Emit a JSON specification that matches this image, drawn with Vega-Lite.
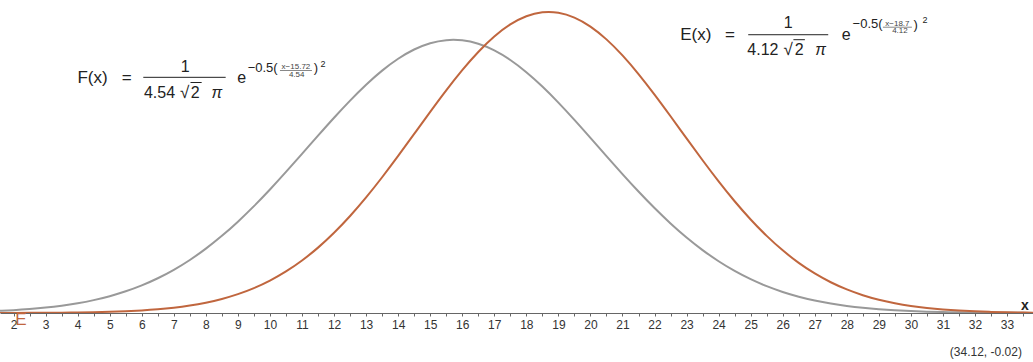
{
"$schema": "https://vega.github.io/schema/vega-lite/v6.json",
"width": 1033, "height": 313,
"autosize": {"type": "none"},
"padding": {"left": 0, "top": 0, "right": 0, "bottom": 49},
"background": "white",
"config": {"view": {"stroke": null}, "font": "Liberation Sans", "text": {"font": "Liberation Sans", "color": "#222"}},
"data": {"values": [
{"x":1.5,"F":0.000651,"E":0.000016},{"x":2,"F":0.000913,"E":0.000026},{"x":2.5,"F":0.001266,"E":0.000043},{"x":3,"F":0.001734,"E":0.000068},
{"x":3.5,"F":0.002347,"E":0.000107},{"x":4,"F":0.003138,"E":0.000167},{"x":4.5,"F":0.004146,"E":0.000255},{"x":5,"F":0.005410,"E":0.000385},
{"x":5.5,"F":0.006975,"E":0.000572},{"x":6,"F":0.008880,"E":0.000837},{"x":6.5,"F":0.011175,"E":0.001208},{"x":7,"F":0.013892,"E":0.001717},
{"x":7.5,"F":0.017060,"E":0.002406},{"x":8,"F":0.020701,"E":0.003322},{"x":8.5,"F":0.024813,"E":0.004520},{"x":9,"F":0.029385,"E":0.006059},
{"x":9.5,"F":0.034375,"E":0.008004},{"x":10,"F":0.039731,"E":0.010416},{"x":10.5,"F":0.045372,"E":0.013360},{"x":11,"F":0.051183,"E":0.016884},
{"x":11.5,"F":0.057046,"E":0.021030},{"x":12,"F":0.062814,"E":0.025808},{"x":12.5,"F":0.068330,"E":0.031205},{"x":13,"F":0.073435,"E":0.037186},
{"x":13.5,"F":0.077967,"E":0.043665},{"x":14,"F":0.081784,"E":0.050516},{"x":14.5,"F":0.084754,"E":0.057592},{"x":15,"F":0.086772,"E":0.064696},
{"x":15.5,"F":0.087767,"E":0.071614},{"x":16,"F":0.087703,"E":0.078119},{"x":16.5,"F":0.086583,"E":0.083962},{"x":17,"F":0.084446,"E":0.088928},
{"x":17.5,"F":0.081369,"E":0.092810},{"x":18,"F":0.077460,"E":0.095443},{"x":18.5,"F":0.072849,"E":0.096716},{"x":19,"F":0.067686,"E":0.096573},
{"x":19.5,"F":0.062133,"E":0.095022},{"x":20,"F":0.056346,"E":0.092128},{"x":20.5,"F":0.050480,"E":0.088016},{"x":21,"F":0.044685,"E":0.082858},
{"x":21.5,"F":0.039072,"E":0.076864},{"x":22,"F":0.033755,"E":0.070257},{"x":22.5,"F":0.028812,"E":0.063285},{"x":23,"F":0.024292,"E":0.056165},
{"x":23.5,"F":0.020239,"E":0.049123},{"x":24,"F":0.016656,"E":0.042332},{"x":24.5,"F":0.013543,"E":0.035947},{"x":25,"F":0.010878,"E":0.030077},
{"x":25.5,"F":0.008632,"E":0.024804},{"x":26,"F":0.006769,"E":0.020152},{"x":26.5,"F":0.005244,"E":0.016132},{"x":27,"F":0.004011,"E":0.012725},
{"x":27.5,"F":0.003033,"E":0.009892},{"x":28,"F":0.002265,"E":0.007577},{"x":28.5,"F":0.001671,"E":0.005721},{"x":29,"F":0.001219,"E":0.004255},
{"x":29.5,"F":0.000878,"E":0.003118},{"x":30,"F":0.000624,"E":0.002251},{"x":30.5,"F":0.000439,"E":0.001602},{"x":31,"F":0.000305,"E":0.001124},
{"x":31.5,"F":0.000209,"E":0.000777},{"x":32,"F":0.000142,"E":0.000529},{"x":32.5,"F":0.000095,"E":0.000355},{"x":33,"F":0.000063,"E":0.000235},
{"x":33.5,"F":0.000041,"E":0.000153},{"x":34,"F":0.000026,"E":0.000098}
]},
"layer": [
{"mark": {"type": "line", "color": "#999999", "strokeWidth": 2, "interpolate": "natural", "clip": true},
 "encoding": {
  "x": {"field": "x", "type": "quantitative", "scale": {"domain": [1.576, 33.81], "nice": false, "zero": false},
   "axis": {"values": [2,2.5,3,3.5,4,4.5,5,5.5,6,6.5,7,7.5,8,8.5,9,9.5,10,10.5,11,11.5,12,12.5,13,13.5,14,14.5,15,15.5,16,16.5,17,17.5,18,18.5,19,19.5,20,20.5,21,21.5,22,22.5,23,23.5,24,24.5,25,25.5,26,26.5,27,27.5,28,28.5,29,29.5,30,30.5,31,31.5,32,32.5,33,33.5],
    "tickCount": 200, "labelExpr": "datum.value % 1 === 0 ? format(datum.value, 'd') : ''", "title": null, "grid": false,
    "domainColor": "#666", "tickColor": "#666", "tickSize": 3, "labelPadding": 3, "labelFontSize": 12, "labelColor": "#333",
    "labelFont": "Liberation Sans", "labelOverlap": false, "labelFlush": false, "labelBound": false, "domainWidth": 1, "tickWidth": 1}},
  "y": {"field": "F", "type": "quantitative", "scale": {"domain": [0, 0.10068], "nice": false, "zero": false}, "axis": null}
 }},
{"mark": {"type": "line", "color": "#c0663e", "strokeWidth": 2, "interpolate": "natural", "clip": true},
 "encoding": {"x": {"field": "x", "type": "quantitative"}, "y": {"field": "E", "type": "quantitative"}}},

{"data": {"values": [{}]}, "mark": {"type": "text", "text": "F(x)", "fontSize": 17, "align": "center", "baseline": "alphabetic"}, "encoding": {"x": {"datum": 4.462}, "y": {"datum": 0.07398}}},
{"data": {"values": [{}]}, "mark": {"type": "text", "text": "=", "fontSize": 17, "align": "center", "baseline": "alphabetic"}, "encoding": {"x": {"datum": 5.529}, "y": {"datum": 0.07398}}},
{"data": {"values": [{}]}, "mark": {"type": "text", "text": "1", "fontSize": 16, "align": "center", "baseline": "alphabetic"}, "encoding": {"x": {"datum": 7.357}, "y": {"datum": 0.07761}}},
{"data": {"values": [{}]}, "mark": {"type": "rule", "color": "#222", "strokeWidth": 1}, "encoding": {"x": {"datum": 6.047}, "x2": {"datum": 8.618}, "y": {"datum": 0.07581}}},
{"data": {"values": [{}]}, "mark": {"type": "text", "text": "4.54", "fontSize": 16, "align": "center", "baseline": "alphabetic"}, "encoding": {"x": {"datum": 6.552}, "y": {"datum": 0.06925}}},
{"data": {"values": [{}]}, "mark": {"type": "text", "text": "√", "fontSize": 17, "align": "center", "baseline": "alphabetic"}, "encoding": {"x": {"datum": 7.34}, "y": {"datum": 0.06925}}},
{"data": {"values": [{}]}, "mark": {"type": "text", "text": "2", "fontSize": 16, "align": "center", "baseline": "alphabetic"}, "encoding": {"x": {"datum": 7.669}, "y": {"datum": 0.06925}}},
{"data": {"values": [{}]}, "mark": {"type": "rule", "color": "#222", "strokeWidth": 1}, "encoding": {"x": {"datum": 7.52}, "x2": {"datum": 7.869}, "y": {"datum": 0.07414}}},
{"data": {"values": [{}]}, "mark": {"type": "text", "text": "π", "fontSize": 16, "fontStyle": "italic", "align": "center", "baseline": "alphabetic"}, "encoding": {"x": {"datum": 8.346}, "y": {"datum": 0.06925}}},
{"data": {"values": [{}]}, "mark": {"type": "text", "text": "e", "fontSize": 16, "align": "center", "baseline": "alphabetic"}, "encoding": {"x": {"datum": 9.117}, "y": {"datum": 0.07388}}},
{"data": {"values": [{}]}, "mark": {"type": "text", "text": "−0.5(", "fontSize": 13, "align": "left", "baseline": "alphabetic"}, "encoding": {"x": {"datum": 9.304}, "y": {"datum": 0.07761}}},
{"data": {"values": [{}]}, "mark": {"type": "text", "text": "x−15.72", "fontSize": 8, "align": "center", "baseline": "alphabetic", "color": "#444"}, "encoding": {"x": {"datum": 10.811}, "y": {"datum": 0.07845}}},
{"data": {"values": [{}]}, "mark": {"type": "rule", "color": "#555", "strokeWidth": 0.7}, "encoding": {"x": {"datum": 10.312}, "x2": {"datum": 11.31}, "y": {"datum": 0.078}}},
{"data": {"values": [{}]}, "mark": {"type": "text", "text": "4.54", "fontSize": 8, "align": "center", "baseline": "alphabetic", "color": "#444"}, "encoding": {"x": {"datum": 10.833}, "y": {"datum": 0.07605}}},
{"data": {"values": [{}]}, "mark": {"type": "text", "text": ")", "fontSize": 13, "align": "center", "baseline": "alphabetic"}, "encoding": {"x": {"datum": 11.435}, "y": {"datum": 0.07752}}},
{"data": {"values": [{}]}, "mark": {"type": "text", "text": "2", "fontSize": 9, "align": "center", "baseline": "alphabetic"}, "encoding": {"x": {"datum": 11.654}, "y": {"datum": 0.07922}}},

{"data": {"values": [{}]}, "mark": {"type": "text", "text": "E(x)", "fontSize": 17, "align": "center", "baseline": "alphabetic"}, "encoding": {"x": {"datum": 23.286}, "y": {"datum": 0.08791}}},
{"data": {"values": [{}]}, "mark": {"type": "text", "text": "=", "fontSize": 17, "align": "center", "baseline": "alphabetic"}, "encoding": {"x": {"datum": 24.353}, "y": {"datum": 0.08791}}},
{"data": {"values": [{}]}, "mark": {"type": "text", "text": "1", "fontSize": 16, "align": "center", "baseline": "alphabetic"}, "encoding": {"x": {"datum": 26.172}, "y": {"datum": 0.09167}}},
{"data": {"values": [{}]}, "mark": {"type": "rule", "color": "#222", "strokeWidth": 1}, "encoding": {"x": {"datum": 24.924}, "x2": {"datum": 27.42}, "y": {"datum": 0.08951}}},
{"data": {"values": [{}]}, "mark": {"type": "text", "text": "4.12", "fontSize": 16, "align": "center", "baseline": "alphabetic"}, "encoding": {"x": {"datum": 25.382}, "y": {"datum": 0.08308}}},
{"data": {"values": [{}]}, "mark": {"type": "text", "text": "√", "fontSize": 17, "align": "center", "baseline": "alphabetic"}, "encoding": {"x": {"datum": 26.17}, "y": {"datum": 0.08308}}},
{"data": {"values": [{}]}, "mark": {"type": "text", "text": "2", "fontSize": 16, "align": "center", "baseline": "alphabetic"}, "encoding": {"x": {"datum": 26.512}, "y": {"datum": 0.08308}}},
{"data": {"values": [{}]}, "mark": {"type": "rule", "color": "#222", "strokeWidth": 1}, "encoding": {"x": {"datum": 26.334}, "x2": {"datum": 26.692}, "y": {"datum": 0.08791}}},
{"data": {"values": [{}]}, "mark": {"type": "text", "text": "π", "fontSize": 16, "fontStyle": "italic", "align": "center", "baseline": "alphabetic"}, "encoding": {"x": {"datum": 27.186}, "y": {"datum": 0.08308}}},
{"data": {"values": [{}]}, "mark": {"type": "text", "text": "e", "fontSize": 16, "align": "center", "baseline": "alphabetic"}, "encoding": {"x": {"datum": 27.978}, "y": {"datum": 0.08781}}},
{"data": {"values": [{}]}, "mark": {"type": "text", "text": "−0.5(", "fontSize": 13, "align": "left", "baseline": "alphabetic"}, "encoding": {"x": {"datum": 28.181}, "y": {"datum": 0.09154}}},
{"data": {"values": [{}]}, "mark": {"type": "text", "text": "x−18.7", "fontSize": 8, "align": "center", "baseline": "alphabetic", "color": "#444"}, "encoding": {"x": {"datum": 29.579}, "y": {"datum": 0.09238}}},
{"data": {"values": [{}]}, "mark": {"type": "rule", "color": "#555", "strokeWidth": 0.7}, "encoding": {"x": {"datum": 29.126}, "x2": {"datum": 30.031}, "y": {"datum": 0.09193}}},
{"data": {"values": [{}]}, "mark": {"type": "text", "text": "4.12", "fontSize": 8, "align": "center", "baseline": "alphabetic", "color": "#444"}, "encoding": {"x": {"datum": 29.657}, "y": {"datum": 0.09}}},
{"data": {"values": [{}]}, "mark": {"type": "text", "text": ")", "fontSize": 13, "align": "center", "baseline": "alphabetic"}, "encoding": {"x": {"datum": 30.15}, "y": {"datum": 0.09144}}},
{"data": {"values": [{}]}, "mark": {"type": "text", "text": "2", "fontSize": 9, "align": "center", "baseline": "alphabetic"}, "encoding": {"x": {"datum": 30.437}, "y": {"datum": 0.09315}}},

{"data": {"values": [{}]}, "mark": {"type": "text", "text": "x", "fontSize": 14, "fontWeight": "bold", "align": "center", "baseline": "alphabetic"}, "encoding": {"x": {"datum": 33.557}, "y": {"datum": 0.000965}}},
{"data": {"values": [{}]}, "mark": {"type": "text", "text": "(34.12, -0.02)", "fontSize": 12, "color": "#333", "align": "right", "baseline": "alphabetic"}, "encoding": {"x": {"datum": 33.463}, "y": {"datum": -0.01383}}},
{"data": {"values": [{}]}, "mark": {"type": "text", "text": "E", "fontSize": 17, "color": "#c0663e", "align": "center", "baseline": "alphabetic"}, "encoding": {"x": {"datum": 2.225}, "y": {"datum": -0.00386}}}
]
}
